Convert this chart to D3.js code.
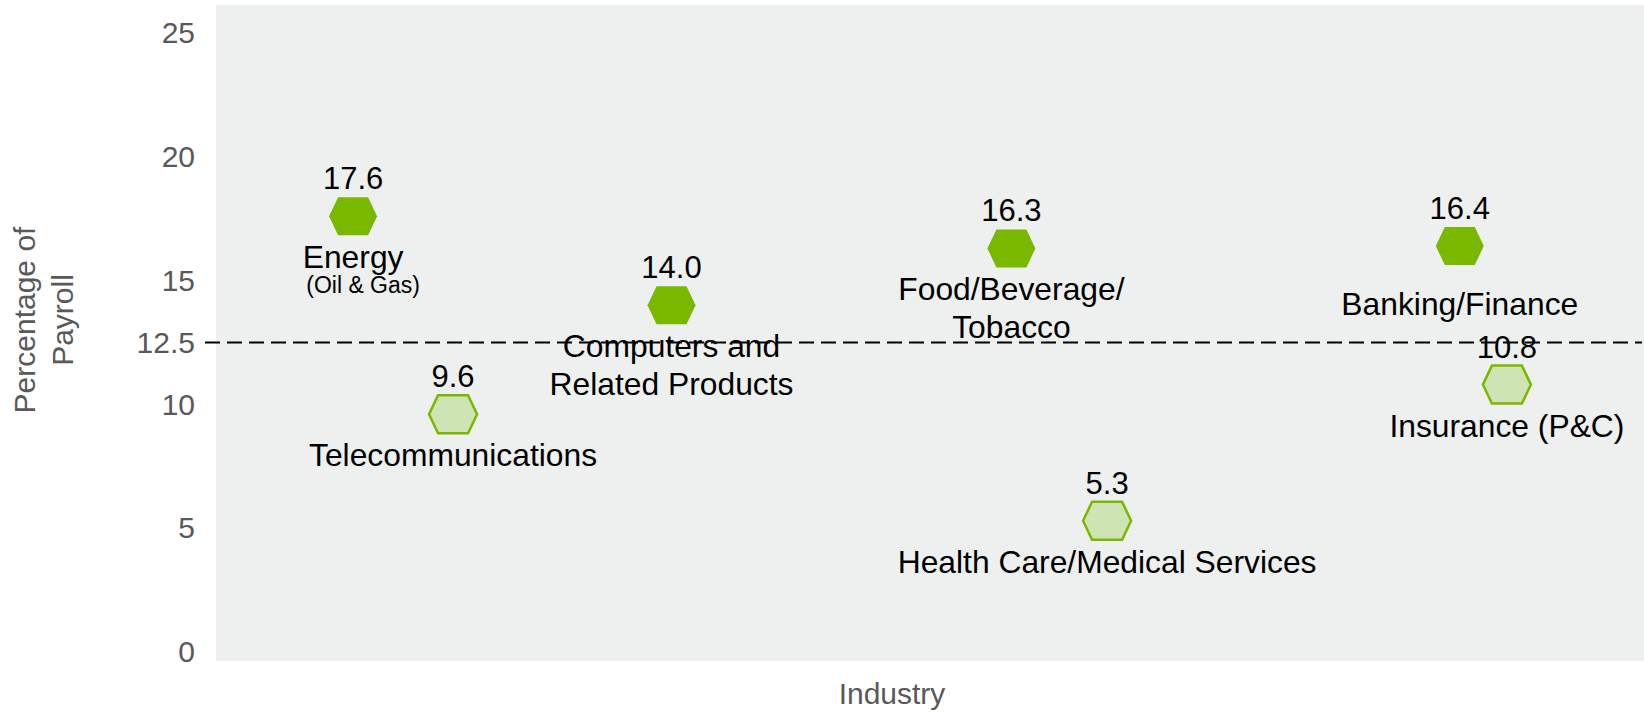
<!DOCTYPE html>
<html>
<head>
<meta charset="utf-8">
<script src="https://cdn.jsdelivr.net/npm/d3@7"></script>
<style>
  html, body { margin: 0; padding: 0; background: #ffffff; }
  svg { display: block; font-family: "Liberation Sans", Arial, sans-serif; }
</style>
</head>
<body>
<svg id="chart" width="1644" height="713"></svg>
<script>
// ---- data ----
const industries = [
  "Energy",
  "Telecommunications",
  "Computers and Related Products",
  "Food/Beverage/Tobacco",
  "Health Care/Medical Services",
  "Banking/Finance",
  "Insurance (P&C)"
];
// how each industry name is wrapped on the chart
const industryLines = [
  ["Energy"],
  ["Telecommunications"],
  ["Computers and", "Related Products"],
  ["Food/Beverage/", "Tobacco"],
  ["Health Care/Medical Services"],
  ["Banking/Finance"],
  ["Insurance (P&C)"]
];
const industryNotes = ["(Oil & Gas)", "", "", "", "", "", ""];
// percentage of payroll per industry
const payrollPct = [17.6, 9.6, 14.0, 16.3, 5.3, 16.4, 10.8];
// position of each industry along the horizontal "Industry" axis (0–100)
const industryX = [9.6, 16.6, 31.9, 55.7, 62.4, 87.1, 90.4];
const yTicks = [0, 5, 10, 15, 20, 25];
const threshold = 12.5;

// ---- layout ----
const plot = { left: 216, right: 1644, top: 5, bottom: 661 };
const COLORS = {
  plotBg: "#eef0ef",
  strong: "#7ab800",
  lightFill: "#cfe4b4",
  tick: "#595959",
  label: "#000000"
};
const hex = { halfW: 24, halfTop: 15, halfH: 19 };
const labelNudge = { "Banking/Finance": 17 };

const svg = d3.select("#chart");

const x = d3.scaleLinear().domain([0, 100]).range([plot.left, plot.right]);
const y = d3.scaleLinear().domain([0, 25]).range([652, 33]);

// plot background
svg.append("rect")
  .attr("x", plot.left).attr("y", plot.top)
  .attr("width", plot.right - plot.left)
  .attr("height", plot.bottom - plot.top)
  .attr("fill", COLORS.plotBg);

// y axis (labels only)
const yAxis = d3.axisLeft(y)
  .tickValues(yTicks.concat([threshold]))
  .tickSize(0)
  .tickPadding(21)
  .tickFormat(d => (d % 1 ? d.toFixed(1) : String(d)));

const gy = svg.append("g")
  .attr("transform", `translate(${plot.left},0)`)
  .call(yAxis);
gy.select(".domain").remove();
gy.selectAll("text")
  .attr("fill", COLORS.tick)
  .style("font-size", "30px")
  .style("font-family", '"Liberation Sans", Arial, sans-serif');

// threshold line
svg.append("line")
  .attr("x1", 205).attr("x2", plot.right - 2)
  .attr("y1", y(threshold)).attr("y2", y(threshold))
  .attr("stroke", "#000")
  .attr("stroke-width", 2)
  .attr("stroke-dasharray", "15,7");

// axis titles
const yTitle = svg.append("text")
  .attr("transform", "translate(35,320) rotate(-90)")
  .attr("text-anchor", "middle")
  .attr("fill", COLORS.tick)
  .style("font-size", "30px");
yTitle.append("tspan").attr("x", 0).attr("dy", 0).text("Percentage of");
yTitle.append("tspan").attr("x", 0).attr("dy", 38).text("Payroll");

svg.append("text")
  .attr("x", 892).attr("y", 704)
  .attr("text-anchor", "middle")
  .attr("fill", COLORS.tick)
  .style("font-size", "30px")
  .text("Industry");

// hexagon marker path
const hexPath = d3.line()([
  [-hex.halfW, 0], [-hex.halfTop, -hex.halfH], [hex.halfTop, -hex.halfH],
  [hex.halfW, 0], [hex.halfTop, hex.halfH], [-hex.halfTop, hex.halfH]
]) + "Z";

const rows = industries.map((name, i) => ({
  name,
  lines: industryLines[i],
  note: industryNotes[i],
  value: payrollPct[i],
  xv: industryX[i]
}));

const g = svg.append("g").selectAll("g")
  .data(rows)
  .join("g")
  .attr("transform", d => `translate(${x(d.xv)},${y(d.value)})`);

g.append("path")
  .attr("d", hexPath)
  .attr("fill", d => d.value >= threshold ? COLORS.strong : COLORS.lightFill)
  .attr("stroke", d => d.value >= threshold ? "none" : COLORS.strong)
  .attr("stroke-width", 2.5);

// value labels
g.append("text")
  .attr("y", -27)
  .attr("text-anchor", "middle")
  .attr("fill", COLORS.label)
  .style("font-size", "31px")
  .text(d => d.value.toFixed(1));

// industry names
const names = g.append("text")
  .attr("text-anchor", "middle")
  .attr("fill", COLORS.label)
  .style("font-size", "31.8px");
names.selectAll("tspan")
  .data(d => d.lines.map((t, k) => ({ t, k, name: d.name })))
  .join("tspan")
  .attr("x", 0)
  .attr("y", d => 52 + (labelNudge[d.name] || 0) + d.k * 38)
  .text(d => d.t);

// small note under the name
g.filter(d => d.note)
  .append("text")
  .attr("x", 10)
  .attr("y", 77)
  .attr("text-anchor", "middle")
  .attr("fill", COLORS.label)
  .style("font-size", "23px")
  .text(d => d.note);
</script>
</body>
</html>
